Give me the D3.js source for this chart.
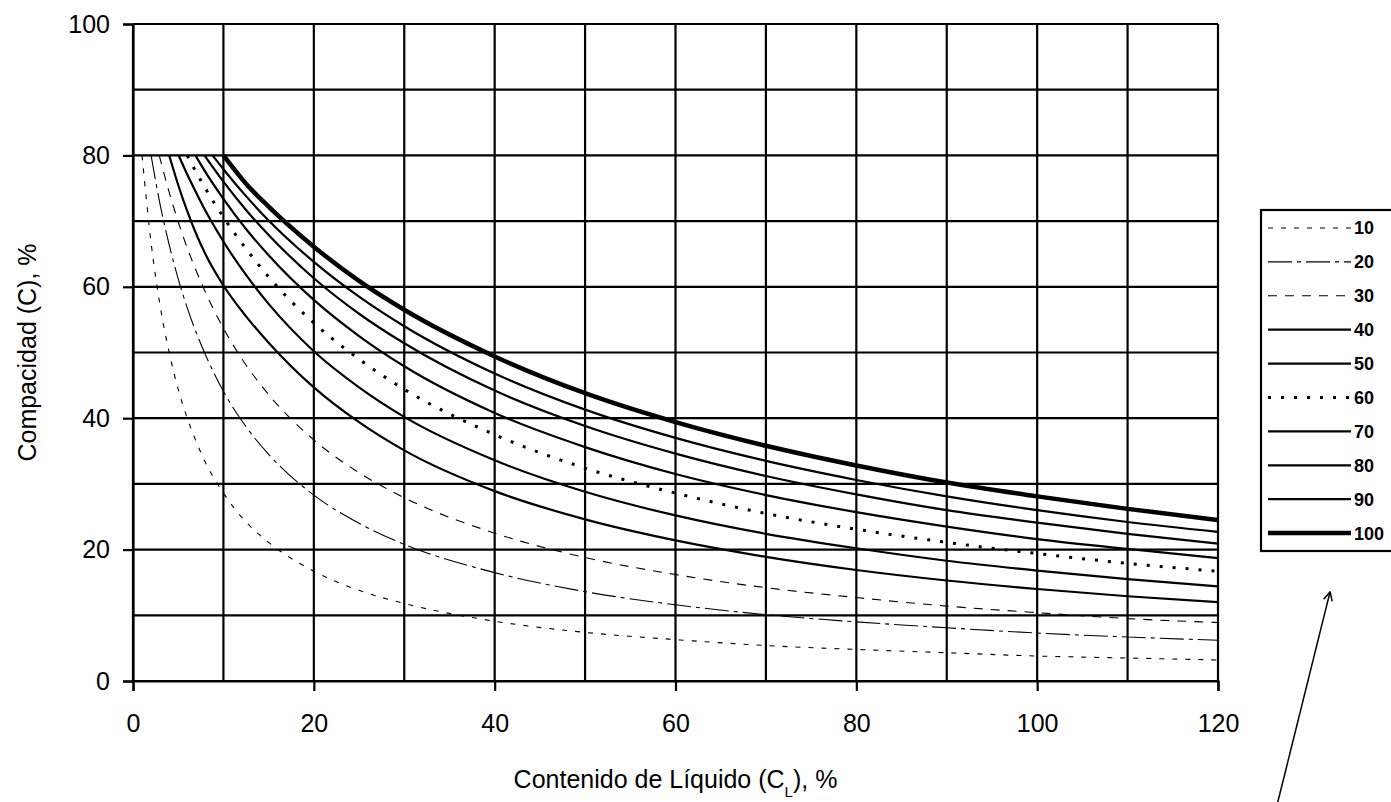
<!DOCTYPE html>
<html>
<head>
<meta charset="utf-8">
<script src="https://cdn.jsdelivr.net/npm/d3@7"></script>
<style>
  body { margin: 0; background: #fff; }
  svg { display: block; font-family: "Liberation Sans", Arial, sans-serif; }
</style>
</head>
<body>
<div id="chart"></div>
<script>
// x positions where the curves were read (Contenido de Liquido, %)
let xs = [2, 3, 4, 5, 6, 7, 8, 10, 12.5, 15, 20, 25, 30, 40, 50, 60, 70, 80, 90, 100, 110, 120];

let labels = [10, 20, 30, 40, 50, 60, 70, 80, 90, 100];
// where every curve starts at C = 80
let startX = [1.0, 2.0, 2.9, 4.0, 5.05, 6.0, 6.9, 7.9, 8.8, 10];
let startC = 80;

let c10 = [66.7, 57.1, 50.0, 44.4, 40.0, 36.4, 33.3, 28.6, 24.2, 21.1, 16.7, 13.8, 11.8, 9.1, 7.4, 6.3, 5.4, 4.8, 4.3, 3.8, 3.5, 3.2];
let c20 = [null, 72.5, 66.4, 61.2, 56.8, 53.0, 49.7, 44.1, 38.7, 34.5, 28.3, 24.0, 20.8, 16.5, 13.6, 11.6, 10.1, 9.0, 8.1, 7.3, 6.7, 6.2];
let c30 = [null, null, 74.4, 69.9, 65.9, 62.4, 59.2, 53.7, 48.1, 43.6, 36.7, 31.7, 27.9, 22.5, 18.8, 16.2, 14.2, 12.7, 11.4, 10.4, 9.5, 8.9];
let c40 = [null, null, null, 75.5, 71.5, 68.0, 65.0, 60.2, 55.5, 51.5, 44.7, 39.4, 35.1, 28.9, 24.6, 21.4, 18.9, 16.9, 15.3, 14.0, 12.9, 12.0];
let c50 = [null, null, null, null, 77.1, 74.3, 71.6, 66.9, 61.8, 57.4, 50.2, 44.7, 40.2, 33.6, 28.8, 25.2, 22.4, 20.2, 18.3, 16.8, 15.5, 14.4];
let c60 = [null, null, null, null, null, 77.4, 75.0, 70.6, 65.8, 61.5, 54.5, 49.0, 44.4, 37.5, 32.4, 28.6, 25.5, 23.1, 21.1, 19.4, 17.9, 16.7];
let c70 = [null, null, null, null, null, null, 77.5, 73.4, 68.8, 64.8, 58.0, 52.5, 47.9, 40.8, 35.6, 31.5, 28.3, 25.7, 23.5, 21.6, 20.1, 18.7];
let c80 = [null, null, null, null, null, null, null, 76.0, 71.7, 67.9, 61.3, 55.9, 51.4, 44.2, 38.8, 34.6, 31.2, 28.4, 26.0, 24.1, 22.4, 20.9];
let c90 = [null, null, null, null, null, null, null, 77.9, 73.8, 70.1, 63.8, 58.5, 54.0, 46.8, 41.3, 37.0, 33.5, 30.6, 28.1, 26.0, 24.2, 22.7];
let c100 = [null, null, null, null, null, null, null, null, 75.7, 72.2, 66.1, 60.9, 56.5, 49.4, 43.8, 39.4, 35.8, 32.8, 30.2, 28.1, 26.2, 24.5];

let xTicks = [0, 20, 40, 60, 80, 100, 120];
let yTicks = [0, 20, 40, 60, 80, 100];
let gridX = d3.range(0, 121, 10);
let gridY = d3.range(0, 101, 10);

// line styles for each curve (same order as labels)
let styles = [
    { w: 1.1, dash: '5,8' },
    { w: 1.1, dash: '24,5,4,5' },
    { w: 1.1, dash: '9,8' },
    { w: 2.2, dash: null },
    { w: 2.2, dash: null },
    { w: 3, dash: '3,10' },
    { w: 2.2, dash: null },
    { w: 2.2, dash: null },
    { w: 2.2, dash: null },
    { w: 4.5, dash: null }
];

let width = 1391, height = 802;
let margin = { top: 24, right: 173, bottom: 121, left: 133 };

let svg = d3.select('#chart').append('svg')
    .attr('width', width)
    .attr('height', height);

let x = d3.scaleLinear().domain([0, 120]).range([margin.left, width - margin.right]);
let y = d3.scaleLinear().domain([0, 100]).range([height - margin.bottom, margin.top]);

// grid
svg.append('g').selectAll('line').data(gridX).enter().append('line')
    .attr('x1', d => x(d)).attr('x2', d => x(d))
    .attr('y1', y(0)).attr('y2', y(100))
    .attr('stroke', '#000').attr('stroke-width', 2.2);

svg.append('g').selectAll('line').data(gridY).enter().append('line')
    .attr('x1', x(0)).attr('x2', x(120))
    .attr('y1', d => y(d)).attr('y2', d => y(d))
    .attr('stroke', '#000').attr('stroke-width', 2.2);

// axes
let xAxis = d3.axisBottom(x).tickValues(xTicks).tickSize(10).tickFormat(d3.format('d'));
let yAxis = d3.axisLeft(y).tickValues(yTicks).tickSize(10).tickFormat(d3.format('d'));

let gx = svg.append('g').attr('transform', 'translate(0,' + y(0) + ')').call(xAxis);
let gy = svg.append('g').attr('transform', 'translate(' + x(0) + ',0)').call(yAxis);

[gx, gy].forEach(g => {
    g.select('.domain').attr('stroke', '#000').attr('stroke-width', 2.2);
    g.selectAll('.tick line').attr('stroke', '#000').attr('stroke-width', 2.2);
    g.selectAll('.tick text')
        .attr('fill', '#000')
        .style('font-size', '25px')
        .style('font-family', '"Liberation Sans", Arial, sans-serif');
});
gx.selectAll('.tick text').attr('y', 33).attr('dy', '0.71em');
gy.selectAll('.tick text').attr('x', -23);

// curves
let series = [c10, c20, c30, c40, c50, c60, c70, c80, c90, c100];

let line = d3.line()
    .x(d => x(d[0]))
    .y(d => y(d[1]))
    .curve(d3.curveMonotoneX);

let curves = svg.append('g');
series.forEach((vals, i) => {
    let pts = [[startX[i], startC]];
    vals.forEach((v, j) => {
        if (v != null) pts.push([xs[j], v]);
    });
    curves.append('path')
        .attr('d', line(pts))
        .attr('fill', 'none')
        .attr('stroke', '#000')
        .attr('stroke-width', styles[i].w)
        .attr('stroke-dasharray', styles[i].dash)
        .attr('stroke-linecap', 'butt');
});

// axis titles
let xTitle = svg.append('text')
    .attr('x', x(60))
    .attr('y', 788)
    .attr('text-anchor', 'middle')
    .style('font-size', '25px');
xTitle.append('tspan').text('Contenido de Líquido (C');
xTitle.append('tspan').attr('baseline-shift', 'sub').style('font-size', '15px').text('L');
xTitle.append('tspan').text('), %');

svg.append('text')
    .attr('transform', translate(36, y(50)) + ' rotate(-90)')
    .attr('text-anchor', 'middle')
    .style('font-size', '25px')
    .text('Compacidad (C), %');

// legend
let legX = 1261, legTop = 210, legStep = 33.9;
let legend = svg.append('g');
legend.append('rect')
    .attr('x', legX).attr('y', legTop)
    .attr('width', 160).attr('height', 341)
    .attr('fill', '#fff').attr('stroke', '#000').attr('stroke-width', 2.2);

labels.forEach((lab, i) => {
    let ly = legTop + 18 + i * legStep;
    legend.append('line')
        .attr('x1', legX + 7).attr('x2', legX + 90)
        .attr('y1', ly).attr('y2', ly)
        .attr('stroke', '#000')
        .attr('stroke-width', styles[i].w)
        .attr('stroke-dasharray', styles[i].dash);
    legend.append('text')
        .attr('x', legX + 93).attr('y', ly)
        .attr('dy', '0.36em')
        .style('font-size', '18px')
        .style('font-weight', 'bold')
        .text(lab);
});

// hand-drawn arrow pointing at the legend
let arrowFrom = [126.6, -18.5];
let arrowTo = [132.4, 13.6];
let ax0 = x(arrowFrom[0]), ay0 = y(arrowFrom[1]);
let ax1 = x(arrowTo[0]), ay1 = y(arrowTo[1]);
svg.append('line')
    .attr('x1', ax0).attr('y1', ay0).attr('x2', ax1).attr('y2', ay1)
    .attr('stroke', '#000').attr('stroke-width', 1.5);
let ang = Math.atan2(ay0 - ay1, ax0 - ax1);
[0.45, -0.45].forEach(da => {
    svg.append('line')
        .attr('x1', ax1).attr('y1', ay1)
        .attr('x2', ax1 + 10 * Math.cos(ang + da))
        .attr('y2', ay1 + 10 * Math.sin(ang + da))
        .attr('stroke', '#000').attr('stroke-width', 1.5);
});

function translate(a, b) {
    return 'translate(' + a + ',' + b + ')';
}
</script>
</body>
</html>
